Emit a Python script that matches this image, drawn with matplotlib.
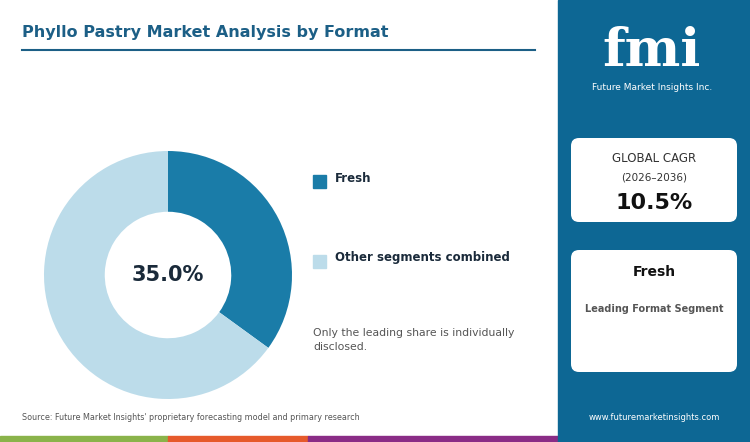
import matplotlib
matplotlib.use("Agg")
import matplotlib.pyplot as plt
from matplotlib.patches import Rectangle, FancyBboxPatch

labels = ["Fresh", "Other segments combined"]
values = [35.0, 65.0]
colors = ["#1a7ca8", "#bcdcea"]
cagr = "10.5%"

W, H = 750, 442
fig = plt.figure(figsize=(7.5, 4.42), dpi=100)
fig.patch.set_facecolor("white")
bg = fig.add_axes([0, 0, 1, 1]); bg.set_xlim(0, W); bg.set_ylim(H, 0); bg.axis("off")

bg.add_patch(Rectangle((558, 0), 192, 436, color="#0d6794"))
bg.add_patch(Rectangle((0, 436), 168, 6, color="#8ab34a"))
bg.add_patch(Rectangle((168, 436), 140, 6, color="#e65a2b"))
bg.add_patch(Rectangle((308, 436), 250, 6, color="#8a2c86"))
bg.add_patch(Rectangle((558, 436), 192, 6, color="#0d6794"))

bg.text(22, 33, "Phyllo Pastry Market Analysis by Format", fontsize=11.5, fontweight="bold",
        color="#1c5f86", va="center")
bg.plot([22, 535], [50, 50], color="#1c5f86", lw=1.5)

bg.add_patch(Rectangle((313, 175), 13, 13, color=colors[0]))
bg.text(335, 178, labels[0], fontsize=8.5, fontweight="bold", color="#1a2a3a", va="center")
bg.add_patch(Rectangle((313, 255), 13, 13, color=colors[1]))
bg.text(335, 257, labels[1], fontsize=8.5, fontweight="bold", color="#1a2a3a", va="center")
bg.text(313, 340, "Only the leading share is individually\ndisclosed.", fontsize=7.8, color="#555555",
        va="center", linespacing=1.4)
bg.text(22, 418, "Source: Future Market Insights' proprietary forecasting model and primary research",
        fontsize=5.8, color="#555555", va="center")
bg.text(654, 418, "www.futuremarketinsights.com", fontsize=6, color="white", va="center", ha="center")

bg.text(652, 52, "fmi", fontsize=38, fontweight="bold", color="white", ha="center", va="center",
        family="DejaVu Serif")
bg.text(652, 87, "Future Market Insights Inc.", fontsize=6.5, color="white", ha="center", va="center")

for (y0, h) in [(138, 84), (250, 122)]:
    bg.add_patch(FancyBboxPatch((571, y0), 166, h, boxstyle="round,pad=0,rounding_size=8",
                                fc="white", ec="none"))
bg.text(654, 158, "GLOBAL CAGR", fontsize=8.5, color="#333333", ha="center", va="center")
bg.text(654, 178, "(2026\u20132036)", fontsize=7.5, color="#333333", ha="center", va="center")
bg.text(654, 203, cagr, fontsize=16, fontweight="bold", color="#111111", ha="center", va="center")
bg.text(654, 272, labels[0], fontsize=10, fontweight="bold", color="#111111", ha="center", va="center")
bg.text(654, 309, "Leading Format Segment", fontsize=7, fontweight="bold", color="#555555",
        ha="center", va="center")

cx, cy, r = 168, 275, 124
ax = fig.add_axes([(cx - r) / W, 1 - (cy + r) / H, 2 * r / W, 2 * r / H])
ax.pie(values, colors=colors, startangle=90, counterclock=False,
       wedgeprops=dict(width=0.49, edgecolor="white", linewidth=0))
ax.set_xlim(-1, 1); ax.set_ylim(-1, 1)
ax.set_aspect("equal")
ax.text(0, 0, f"{values[0]:.1f}%", fontsize=15, fontweight="bold", color="#1a2a3a",
        ha="center", va="center")

fig.savefig("out.png", dpi=100)
